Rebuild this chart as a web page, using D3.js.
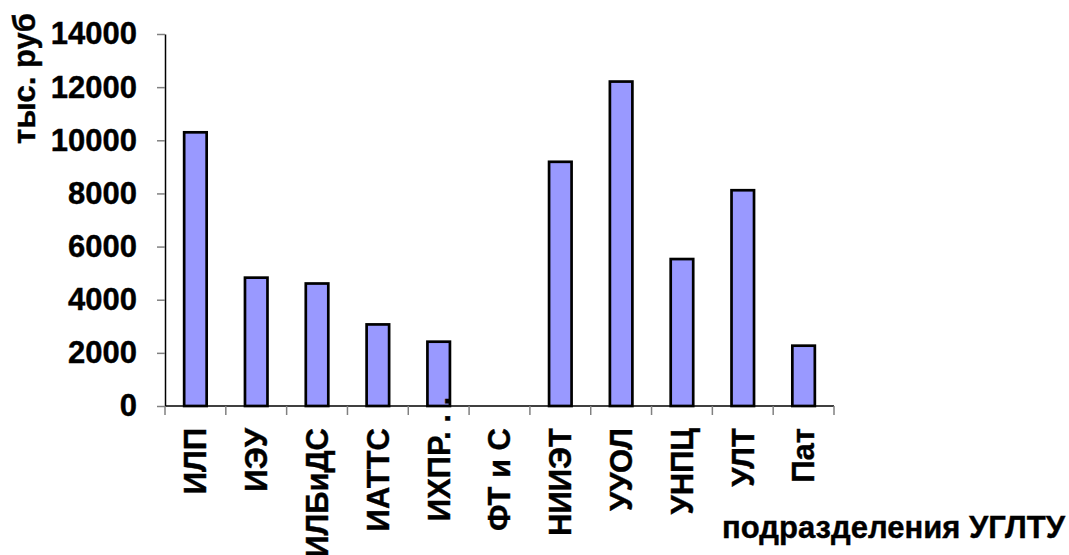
<!DOCTYPE html>
<html>
<head>
<meta charset="utf-8">
<script src="https://cdn.jsdelivr.net/npm/d3@7"></script>
<style>
  body { margin: 0; background: #fff; }
  svg { display: block; font-family: "Liberation Sans", Arial, sans-serif; font-weight: bold; }
  svg text { font-size: 31px; fill: #000; stroke: #000; stroke-width: 0.4px; }
</style>
</head>
<body>
<div id="chart"></div>
<script>
// data
const categories = ["ИЛП", "ИЭУ", "ИЛБиДС", "ИАТТС", "ИХПР. . .", "ФТ и С", "НИИЭТ", "УУОЛ", "УНПЦ", "УЛТ", "Пат"];
const values = [10300, 4830, 4610, 3070, 2420, 0, 9190, 12210, 5530, 8120, 2270];
const yTicks = [0, 2000, 4000, 6000, 8000, 10000, 12000, 14000];
const yTitle = "тыс. руб";
const xTitle = "подразделения УГЛТУ";

const width = 1069, height = 555;
const plotLeft = 165, plotRight = 834, plotTop = 34, plotBottom = 406;

const svg = d3.select("#chart")
  .append("svg")
  .attr("width", width)
  .attr("height", height)
  .style("background", "#fff");

const x = d3.scaleBand()
  .domain(categories)
  .range([plotLeft, plotRight])
  .paddingInner(0.63)
  .paddingOuter(0.315);

const y = d3.scaleLinear()
  .domain([0, 14000])
  .range([plotBottom, plotTop]);

// bars
svg.append("g")
  .selectAll("rect")
  .data(categories.map((c, i) => ({ c, v: values[i] })).filter(d => d.v > 0))
  .join("rect")
  .attr("x", d => x(d.c))
  .attr("y", d => y(d.v))
  .attr("width", x.bandwidth())
  .attr("height", d => y(0) - y(d.v))
  .attr("fill", "#9999ff")
  .attr("stroke", "#000")
  .attr("stroke-width", 2.7);

// y axis
const yAxis = svg.append("g")
  .attr("transform", `translate(${plotLeft},0)`)
  .call(d3.axisLeft(y).tickValues(yTicks).tickFormat(d3.format("d")).tickSize(8).tickSizeOuter(0).tickPadding(20));
yAxis.attr("font-size", null).attr("font-family", null);
yAxis.select(".domain").attr("stroke", "#000").attr("stroke-width", 1.5);
yAxis.selectAll(".tick line").attr("stroke", "#808080").attr("stroke-width", 1.5);
yAxis.selectAll(".tick text").attr("fill", null);

// x axis: line, ticks between categories
const xg = svg.append("g");
xg.append("line")
  .attr("x1", plotLeft).attr("x2", plotRight)
  .attr("y1", plotBottom).attr("y2", plotBottom)
  .attr("stroke", "#000").attr("stroke-width", 1.5);
xg.selectAll("line.tick")
  .data(d3.range(categories.length + 1))
  .join("line")
  .attr("class", "tick")
  .attr("x1", i => plotLeft + i * x.step())
  .attr("x2", i => plotLeft + i * x.step())
  .attr("y1", plotBottom)
  .attr("y2", plotBottom + 9)
  .attr("stroke", "#808080")
  .attr("stroke-width", 1.5);

// rotated category labels, end at top
xg.selectAll("text")
  .data(categories)
  .join("text")
  .attr("transform", d => {
    const cx = x(d) + x.bandwidth() / 2;
    const ty = d.endsWith(". .") ? 397 : 428;  // truncated label overflows upward
    return `translate(${cx},${ty}) rotate(-90)`;
  })
  .attr("text-anchor", "end")
  .attr("dy", "0.35em")
  .text(d => d);

// titles
svg.append("text")
  .attr("transform", "translate(35,13) rotate(-90)")
  .attr("text-anchor", "end")
  .text(yTitle);

svg.append("text")
  .attr("x", 1065)
  .attr("y", 538)
  .attr("text-anchor", "end")
  .text(xTitle);
</script>
</body>
</html>
